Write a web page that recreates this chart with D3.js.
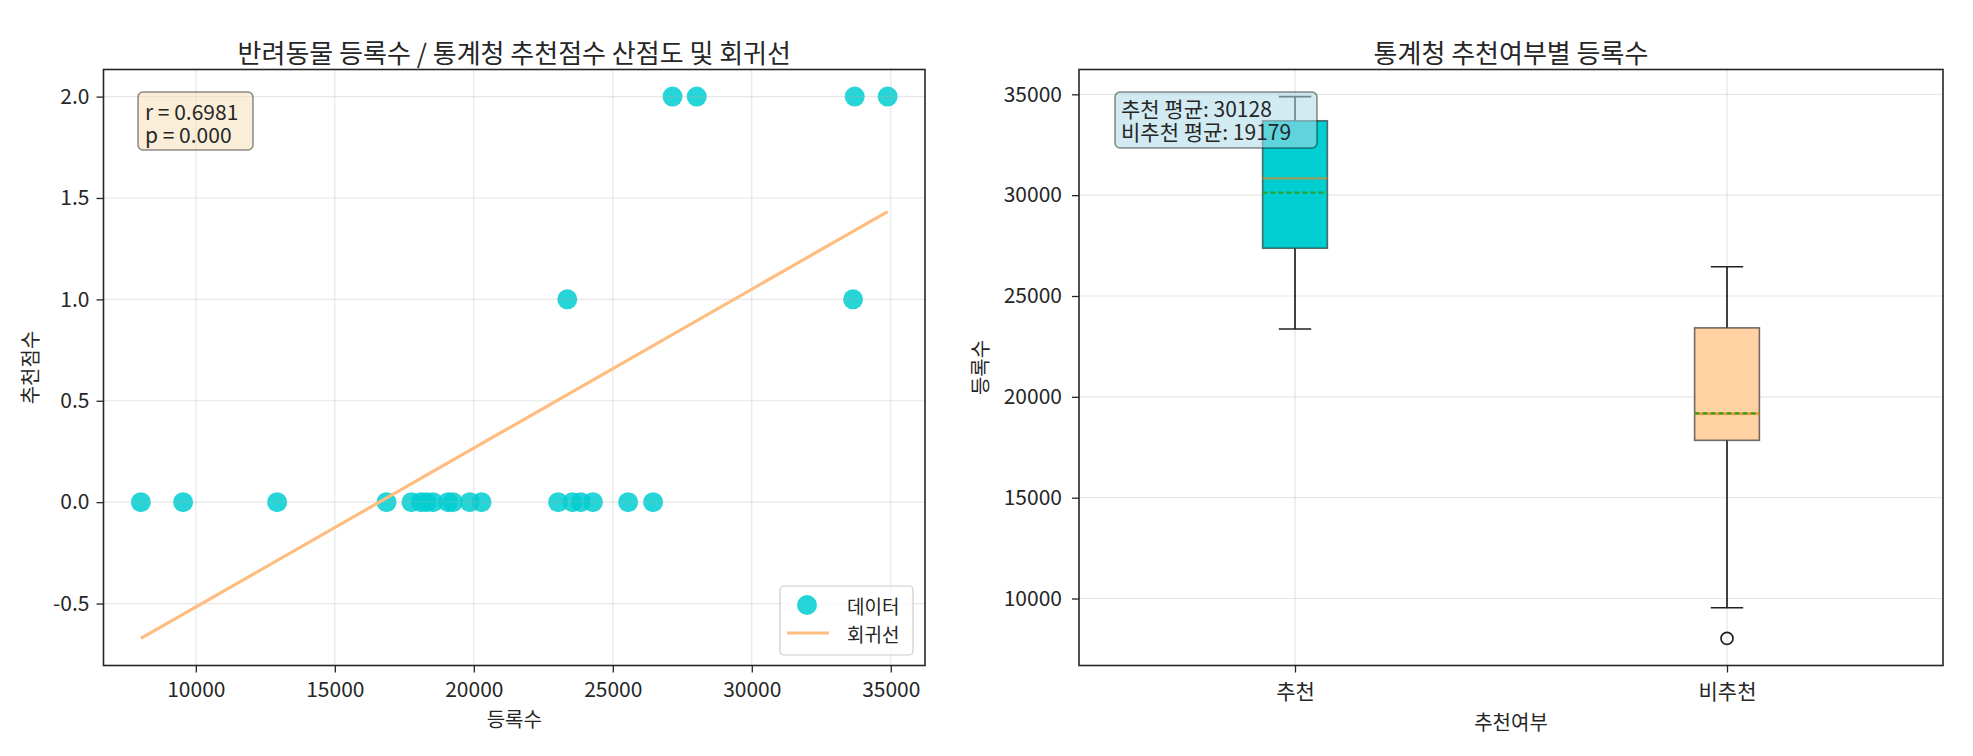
<!DOCTYPE html>
<html><head><meta charset="utf-8">
<script src="https://cdn.jsdelivr.net/npm/d3@7"></script>
<style>
body{margin:0;background:#fff;}
text{font-family:"Noto Sans CJK KR","Noto Sans",sans-serif;fill:#262626;}
</style>
</head><body>
<svg id="c" width="1973" height="756"></svg>
<script>
// ---- data ----
const nonRecCounts = [8022, 9543, 12925, 16859, 17758, 18100, 18300, 18536, 19076, 19250, 19856, 20277, 23033, 23550, 23850, 24285, 25552, 26450];
const recCounts = [23363, 27150, 28020, 33643, 33704, 34888];
const recScores = [1, 2, 2, 1, 2, 2];
const nonRecScore = 0;
const xTicksLeft = [10000, 15000, 20000, 25000, 30000, 35000];
const yTicksLeft = [-0.5, 0.0, 0.5, 1.0, 1.5, 2.0];
const yTicksRight = [10000, 15000, 20000, 25000, 30000, 35000];
const categories = ["추천", "비추천"];
const statLines = ["r = 0.6981", "p = 0.000"];
const titles = ["반려동물 등록수 / 통계청 추천점수 산점도 및 회귀선", "통계청 추천여부별 등록수"];
const legendLabels = ["데이터", "회귀선"];

const svg = d3.select("#c");
const gridColor = "#b0b0b0", gridOp = 0.3;
const spine = "#262626";

// points
const points = nonRecCounts.map(v => ({x: v, y: nonRecScore}))
  .concat(recCounts.map((v, i) => ({x: v, y: recScores[i]})));

// regression
const mx = d3.mean(points, d => d.x), my = d3.mean(points, d => d.y);
const sxy = d3.sum(points, d => (d.x - mx) * (d.y - my));
const sxx = d3.sum(points, d => (d.x - mx) ** 2);
const slope = sxy / sxx, intercept = my - slope * mx;
const xMin = d3.min(points, d => d.x), xMax = d3.max(points, d => d.x);
const line = [{x: xMin, y: intercept + slope * xMin}, {x: xMax, y: intercept + slope * xMax}];

function pad(lo, hi) { const r = hi - lo; return [lo - 0.05 * r, hi + 0.05 * r]; }

// ---- LEFT ----
const L = {x0: 103.5, x1: 925, y0: 69.5, y1: 665.5};
const xs = d3.scaleLinear().domain(pad(xMin, xMax)).range([L.x0, L.x1]);
const yLo = Math.min(d3.min(points, d => d.y), line[0].y, line[1].y);
const yHi = Math.max(d3.max(points, d => d.y), line[0].y, line[1].y);
const ys = d3.scaleLinear().domain(pad(yLo, yHi)).range([L.y1, L.y0]);

const gL = svg.append("g");
gL.selectAll(".pt").data(points).enter().append("circle")
  .attr("cx", d => xs(d.x)).attr("cy", d => ys(d.y)).attr("r", 10)
  .attr("fill", "#00CED1").attr("fill-opacity", 0.85);
// grid
gL.selectAll(".gx").data(xTicksLeft).enter().append("line")
  .attr("x1", d => xs(d)).attr("x2", d => xs(d)).attr("y1", L.y0).attr("y2", L.y1)
  .attr("stroke", gridColor).attr("stroke-opacity", gridOp).attr("stroke-width", 1.2);
gL.selectAll(".gy").data(yTicksLeft).enter().append("line")
  .attr("y1", d => ys(d)).attr("y2", d => ys(d)).attr("x1", L.x0).attr("x2", L.x1)
  .attr("stroke", gridColor).attr("stroke-opacity", gridOp).attr("stroke-width", 1.2);
// regression line
gL.append("path").datum(line)
  .attr("d", d3.line().x(d => xs(d.x)).y(d => ys(d.y)))
  .attr("stroke", "#ffbd80").attr("stroke-width", 3.2).attr("fill", "none");
// axes
const axL = gL.append("g").attr("transform", `translate(0,${L.y1})`)
  .call(d3.axisBottom(xs).tickValues(xTicksLeft).tickFormat(d3.format("d")).tickSize(7).tickPadding(10).tickSizeOuter(0));
const ayL = gL.append("g").attr("transform", `translate(${L.x0},0)`)
  .call(d3.axisLeft(ys).tickValues(yTicksLeft).tickFormat(d => d3.format(".1f")(d).replace("−", "-")).tickSize(7).tickPadding(7).tickSizeOuter(0));
[axL, ayL].forEach(a => {
  a.select(".domain").remove();
  a.selectAll("line").attr("stroke", spine).attr("stroke-width", 1.3);
  a.selectAll("text").attr("font-size", 21).attr("fill", "#333").style("font-family", '"Noto Sans CJK KR"');
});
gL.append("rect").attr("x", L.x0).attr("y", L.y0).attr("width", L.x1 - L.x0).attr("height", L.y1 - L.y0)
  .attr("fill", "none").attr("stroke", spine).attr("stroke-width", 1.6);
// stat box
gL.append("rect").attr("x", 138).attr("y", 92).attr("width", 115).attr("height", 58).attr("rx", 5)
  .attr("fill", "#f5deb3").attr("fill-opacity", 0.5).attr("stroke", "#000").attr("stroke-opacity", 0.45).attr("stroke-width", 1.5);
statLines.forEach((t, i) => gL.append("text").attr("x", 145).attr("y", 110.5 + i * 23)
  .attr("dominant-baseline", "central").attr("font-size", 21).text(t));
// legend
const lg = gL.append("g");
lg.append("rect").attr("x", 780).attr("y", 586).attr("width", 133).attr("height", 69).attr("rx", 4)
  .attr("fill", "#fff").attr("fill-opacity", 0.8).attr("stroke", "#ccc").attr("stroke-width", 1.2);
lg.append("circle").attr("cx", 807).attr("cy", 605).attr("r", 10).attr("fill", "#00CED1").attr("fill-opacity", 0.85);
lg.append("line").attr("x1", 787).attr("x2", 829).attr("y1", 633).attr("y2", 633).attr("stroke", "#ffbd80").attr("stroke-width", 3.2);
legendLabels.forEach((t, i) => lg.append("text").attr("x", 847).attr("y", 605 + i * 28)
  .attr("dominant-baseline", "central").attr("font-size", 19).text(t));
// titles & labels
gL.append("text").attr("x", (L.x0 + L.x1) / 2).attr("y", 51).attr("text-anchor", "middle")
  .attr("dominant-baseline", "central").attr("font-size", 26).text(titles[0]);
gL.append("text").attr("x", (L.x0 + L.x1) / 2).attr("y", 718).attr("text-anchor", "middle")
  .attr("dominant-baseline", "central").attr("font-size", 20).text("등록수");
gL.append("text").attr("transform", `translate(29,${(L.y0 + L.y1) / 2}) rotate(-90)`).attr("text-anchor", "middle")
  .attr("dominant-baseline", "central").attr("font-size", 20).text("추천점수");

// ---- RIGHT ----
const R = {x0: 1079, x1: 1943, y0: 69.5, y1: 665.5};
const allCounts = nonRecCounts.concat(recCounts);
const xr = d3.scaleLinear().domain([0.5, 2.5]).range([R.x0, R.x1]);
const yr = d3.scaleLinear().domain(pad(d3.min(allCounts), d3.max(allCounts))).range([R.y1, R.y0]);
const gR = svg.append("g");
gR.selectAll(".gx").data([1, 2]).enter().append("line")
  .attr("x1", d => xr(d)).attr("x2", d => xr(d)).attr("y1", R.y0).attr("y2", R.y1)
  .attr("stroke", gridColor).attr("stroke-opacity", gridOp).attr("stroke-width", 1.2);
gR.selectAll(".gy").data(yTicksRight).enter().append("line")
  .attr("y1", d => yr(d)).attr("y2", d => yr(d)).attr("x1", R.x0).attr("x2", R.x1)
  .attr("stroke", gridColor).attr("stroke-opacity", gridOp).attr("stroke-width", 1.2);

function stats(arr) {
  const s = arr.slice().sort(d3.ascending);
  const q1 = d3.quantile(s, 0.25), med = d3.quantile(s, 0.5), q3 = d3.quantile(s, 0.75);
  const iqr = q3 - q1;
  const lo = d3.min(s.filter(v => v >= q1 - 1.5 * iqr)), hi = d3.max(s.filter(v => v <= q3 + 1.5 * iqr));
  return {q1, med, q3, lo, hi, mean: d3.mean(s), out: s.filter(v => v < lo || v > hi)};
}
const groups = [{data: recCounts, fill: "#00CED1"}, {data: nonRecCounts, fill: "#ffd1a3"}];
const bw = (xr(1.075) - xr(0.925)), cw = bw / 2;
groups.forEach((g, i) => {
  const s = stats(g.data), cx = xr(i + 1);
  const wl = gR.append("g").attr("stroke", "#222").attr("stroke-width", 1.7);
  wl.append("line").attr("x1", cx).attr("x2", cx).attr("y1", yr(s.q1)).attr("y2", yr(s.lo));
  wl.append("line").attr("x1", cx).attr("x2", cx).attr("y1", yr(s.q3)).attr("y2", yr(s.hi));
  wl.append("line").attr("x1", cx - cw / 2).attr("x2", cx + cw / 2).attr("y1", yr(s.lo)).attr("y2", yr(s.lo));
  wl.append("line").attr("x1", cx - cw / 2).attr("x2", cx + cw / 2).attr("y1", yr(s.hi)).attr("y2", yr(s.hi));
  gR.append("rect").attr("x", cx - bw / 2).attr("width", bw).attr("y", yr(s.q3)).attr("height", yr(s.q1) - yr(s.q3))
    .attr("fill", g.fill).attr("stroke", "#333").attr("stroke-opacity", 0.7).attr("stroke-width", 1.6);
  gR.append("line").attr("x1", cx - bw / 2).attr("x2", cx + bw / 2).attr("y1", yr(s.med)).attr("y2", yr(s.med))
    .attr("stroke", "#ff7f0e").attr("stroke-opacity", i === 0 ? 0.6 : 0.9).attr("stroke-width", 2.2);
  gR.append("line").attr("x1", cx - bw / 2).attr("x2", cx + bw / 2).attr("y1", yr(s.mean)).attr("y2", yr(s.mean))
    .attr("stroke", "#2ca02c").attr("stroke-width", 2.2).attr("stroke-dasharray", "5,3");
  gR.selectAll(null).data(s.out).enter().append("circle").attr("cx", cx).attr("cy", d => yr(d)).attr("r", 6)
    .attr("fill", "none").attr("stroke", "#222").attr("stroke-width", 1.7);
});
const axR = gR.append("g").attr("transform", `translate(0,${R.y1})`)
  .call(d3.axisBottom(xr).tickValues([1, 2]).tickFormat((d, i) => categories[i]).tickSize(7).tickPadding(12).tickSizeOuter(0));
const ayR = gR.append("g").attr("transform", `translate(${R.x0},0)`)
  .call(d3.axisLeft(yr).tickValues(yTicksRight).tickFormat(d3.format("d")).tickSize(7).tickPadding(10).tickSizeOuter(0));
[axR, ayR].forEach(a => {
  a.select(".domain").remove();
  a.selectAll("line").attr("stroke", spine).attr("stroke-width", 1.3);
  a.selectAll("text").attr("font-size", 21).attr("fill", "#333").style("font-family", '"Noto Sans CJK KR"');
});
gR.append("rect").attr("x", R.x0).attr("y", R.y0).attr("width", R.x1 - R.x0).attr("height", R.y1 - R.y0)
  .attr("fill", "none").attr("stroke", spine).attr("stroke-width", 1.6);
// mean box
const meanLines = [`추천 평균: ${Math.round(d3.mean(recCounts))}`, `비추천 평균: ${Math.round(d3.mean(nonRecCounts))}`];
gR.append("rect").attr("x", 1115).attr("y", 92).attr("width", 202).attr("height", 56).attr("rx", 5)
  .attr("fill", "#add8e6").attr("fill-opacity", 0.55).attr("stroke", "#000").attr("stroke-opacity", 0.45).attr("stroke-width", 1.5);
meanLines.forEach((t, i) => gR.append("text").attr("x", 1121).attr("y", 107.5 + i * 23)
  .attr("dominant-baseline", "central").attr("font-size", 21).text(t));
gR.append("text").attr("x", (R.x0 + R.x1) / 2).attr("y", 51).attr("text-anchor", "middle")
  .attr("dominant-baseline", "central").attr("font-size", 26).text(titles[1]);
gR.append("text").attr("x", (R.x0 + R.x1) / 2).attr("y", 721).attr("text-anchor", "middle")
  .attr("dominant-baseline", "central").attr("font-size", 20).text("추천여부");
gR.append("text").attr("transform", `translate(979,${(R.y0 + R.y1) / 2}) rotate(-90)`).attr("text-anchor", "middle")
  .attr("dominant-baseline", "central").attr("font-size", 20).text("등록수");
</script>
</body></html>
